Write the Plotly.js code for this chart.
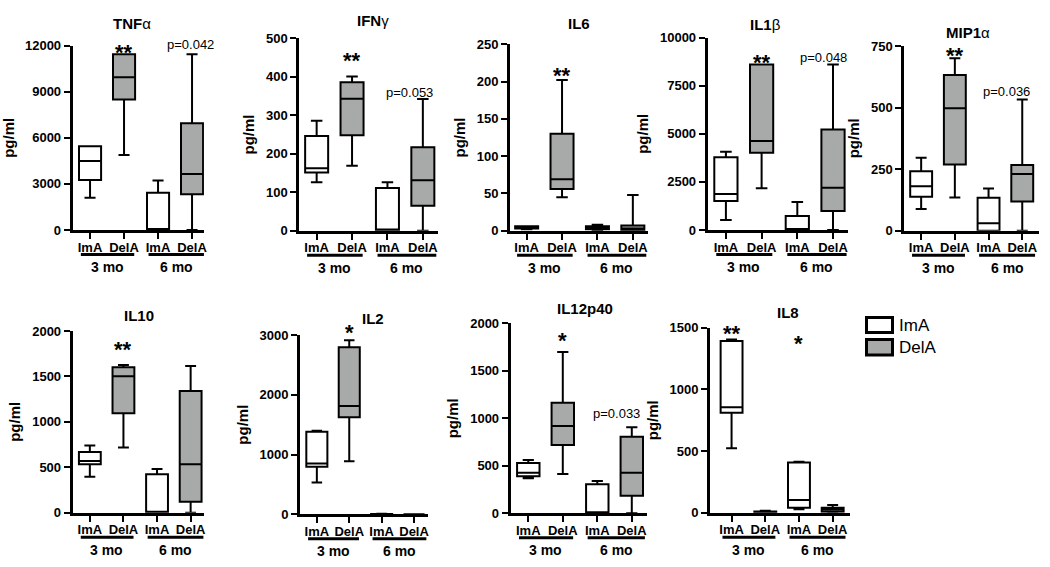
<!DOCTYPE html>
<html>
<head>
<meta charset="utf-8">
<script src="https://cdn.plot.ly/plotly-3.0.1.min.js"></script>
<style>
  body { margin: 0; background: #fff; }
  #chart { width: 1050px; height: 567px; }
</style>
</head>
<body>
<div id="chart"></div>
<script>
const W = 1050, H = 567;
const FONT = 'Liberation Sans, Arial, sans-serif';

// panel titles
const cytokines = ['<b>TNF</b>α', '<b>IFN</b>γ', '<b>IL6</b>', '<b>IL1</b>β', '<b>MIP1</b>α',
                   '<b>IL10</b>', '<b>IL2</b>', '<b>IL12p40</b>', '<b>IL8</b>'];
const groups = ['ImA', 'DelA', 'ImA', 'DelA'];
const periods = ['3 mo', '6 mo'];

// box stats in pg/ml, each pair is [3 mo, 6 mo]
const imaLow  = [[2100, 0], [126, 0], [2, 1], [520, 0], [88, 0], [396, 0], [530, 0], [368, 0], [522, 27]];
const imaQ1   = [[3250, 0], [151, 0], [3, 2], [1510, 0], [138, 0], [532, 0], [797, 0], [389, 0], [811, 41]];
const imaMed  = [[4500, 0], [162, 3], [5, 4], [1870, 0], [181, 30], [569, 0], [848, 0], [428, 0], [854, 103]];
const imaQ3   = [[5450, 2430], [246, 111], [6, 6], [3780, 730], [241, 134], [668, 422], [1383, 5], [530, 305], [1392, 408]];
const imaHigh = [[5450, 3230], [286, 126], [6, 8], [4070, 1460], [296, 171], [741, 481], [1400, 10], [561, 340], [1405, 414]];

const delLow  = [[4880, 0], [169, 0], [45, 0], [2170, 0], [135, 0], [719, 0], [887, 0], [414, 0], [0, 0]];
const delQ1   = [[8500, 2320], [248, 65], [56, 1], [4020, 990], [269, 119], [1094, 121], [1623, 0], [719, 186], [3, 8]];
const delMed  = [[9940, 3650], [343, 131], [69, 3], [4630, 2200], [497, 230], [1501, 532], [1813, 0], [919, 428], [6, 25]];
const delQ3   = [[11450, 6950], [386, 217], [130, 7], [8610, 5230], [632, 267], [1600, 1339], [2794, 0], [1165, 807], [10, 41]];
const delHigh = [[11450, 11450], [401, 342], [202, 48], [8610, 8610], [700, 533], [1626, 1615], [2911, 0], [1698, 905], [15, 62]];

// significance labels: text, panel, group position
const sigLabels = ['**', 'p=0.042', '**', 'p=0.053', '**', '**', 'p=0.048', '**', 'p=0.036',
                   '**', '*', '*', 'p=0.033', '**', '*'];
const sigPanel  = [0, 0, 1, 1, 2, 3, 3, 4, 4, 5, 6, 7, 7, 8, 8];
const sigGroup  = [1, 3, 1, 3, 1, 1, 3, 1, 3, 1, 1, 1, 3, 0, 2];
// label placement (px from top) and horizontal nudge
const sigY  = [46.7, 45, 55, 92, 70, 56.7, 57.3, 50, 91.7, 344.3, 326.7, 335, 413.3, 328.3, 338.3];
const sigDx = [0, -2, 0, -13, 0, 0, -10, 0, -16, 0, 0, 0, -15, 0, 0];

// panel geometry in px: y axis x position, category spacing, top/bottom of plot, title spot
const panels = [
  {ax: 72.7,  sp: 34,   top: 45.7,  bot: 230,   l: 0.51, r: 0.35, ymax: 12000, dt: 3000, tx: 132, ty: 23},
  {ax: 299.3, sp: 35.4, top: 38.3,  bot: 230.7, l: 0.49, r: 0.42, ymax: 500,   dt: 100,  tx: 373, ty: 21},
  {ax: 510,   sp: 35.4, top: 44.3,  bot: 230.7, l: 0.47, r: 0.42, ymax: 250,   dt: 50,   tx: 579, ty: 23},
  {ax: 707.7, sp: 35.7, top: 37.7,  bot: 230,   l: 0.51, r: 0.42, ymax: 10000, dt: 2500, tx: 765, ty: 24},
  {ax: 904.3, sp: 33.7, top: 46,    bot: 230.7, l: 0.5,  r: 0.51, ymax: 750,   dt: 250,  tx: 968, ty: 32},
  {ax: 72.7,  sp: 33.6, top: 331,   bot: 512.7, l: 0.51, r: 0.4,  ymax: 2000,  dt: 500,  tx: 139, ty: 315},
  {ax: 300,   sp: 32.4, top: 335,   bot: 514.3, l: 0.52, r: 0.43, ymax: 3000,  dt: 1000, tx: 373, ty: 318},
  {ax: 510.7, sp: 34.5, top: 323.3, bot: 513.3, l: 0.51, r: 0.43, ymax: 2000,  dt: 500,  tx: 585, ty: 308},
  {ax: 710,   sp: 33.7, top: 327.7, bot: 512.7, l: 0.64, r: 0.51, ymax: 1500,  dt: 500,  tx: 788, ty: 312}
];

const GRAY = '#a8aaaa';
const py = v => 1 - v / H;
const pxw = v => v / W;

var data = [];
var layout = {
  width: W, height: H,
  margin: {l: 0, r: 0, t: 0, b: 0},
  paper_bgcolor: '#fff', plot_bgcolor: 'rgba(0,0,0,0)',
  showlegend: false,
  font: {family: FONT, color: '#000'},
  annotations: [],
  shapes: []
};

panels.forEach(function(p, i) {
  let k = i + 1;
  let xid = k === 1 ? 'x' : 'x' + k;
  let yid = k === 1 ? 'y' : 'y' + k;

  layout['xaxis' + (k === 1 ? '' : k)] = {
    domain: [pxw(p.ax), pxw(p.ax + (p.l + 3 + p.r) * p.sp)],
    range: [-p.l, 3 + p.r],
    anchor: yid,
    tickvals: [0, 1, 2, 3], ticktext: groups,
    showline: true, linewidth: 3, linecolor: '#000',
    ticks: 'outside', ticklen: 6, tickwidth: 2, tickcolor: '#000',
    ticklabelstandoff: -3,
    showgrid: false, zeroline: false, fixedrange: true,
    tickfont: {family: FONT, size: 13, weight: 'bold'}
  };
  layout['yaxis' + (k === 1 ? '' : k)] = {
    domain: [py(p.bot), py(p.top)],
    range: [0, p.ymax], tick0: 0, dtick: p.dt,
    tickformat: 'd',
    anchor: xid,
    showline: true, linewidth: 3, linecolor: '#000',
    ticks: 'outside', ticklen: 6, tickwidth: 2, tickcolor: '#000',
    showgrid: false, zeroline: false, fixedrange: true,
    tickfont: {family: FONT, size: 13, weight: 'bold'},
    title: {text: 'pg/ml', font: {family: FONT, size: 15, weight: 'bold'}, standoff: 8}
  };

  data.push({
    type: 'box', xaxis: xid, yaxis: yid, name: 'ImA',
    x: [0, 2],
    lowerfence: imaLow[i], q1: imaQ1[i], median: imaMed[i], q3: imaQ3[i], upperfence: imaHigh[i],
    width: 0.65, whiskerwidth: 0.5, boxpoints: false,
    fillcolor: '#fff', line: {color: '#000', width: 2},
    hoverinfo: 'skip'
  });
  data.push({
    type: 'box', xaxis: xid, yaxis: yid, name: 'DelA',
    x: [1, 3],
    lowerfence: delLow[i], q1: delQ1[i], median: delMed[i], q3: delQ3[i], upperfence: delHigh[i],
    width: 0.65, whiskerwidth: 0.5, boxpoints: false,
    fillcolor: GRAY, line: {color: '#000', width: 2},
    hoverinfo: 'skip'
  });

  // panel title
  layout.annotations.push({
    xref: 'paper', yref: 'paper', x: pxw(p.tx), y: py(p.ty),
    text: cytokines[i], showarrow: false, xanchor: 'center', yanchor: 'middle',
    font: {family: FONT, size: 15}
  });

  // 3 mo / 6 mo group underlines and labels
  [[-0.27, 1.3], [1.72, 3.38]].forEach(function(seg, g) {
    layout.shapes.push({
      type: 'line', xref: xid, yref: 'paper',
      x0: seg[0], x1: seg[1], y0: py(p.bot + 24.5), y1: py(p.bot + 24.5),
      line: {color: '#000', width: 3}
    });
    layout.annotations.push({
      xref: xid, yref: 'paper', x: g === 0 ? 0.5 : 2.55, y: py(p.bot + 37),
      text: periods[g], showarrow: false, xanchor: 'center', yanchor: 'middle',
      font: {family: FONT, size: 14, weight: 'bold'}
    });
  });
});

// significance marks
sigLabels.forEach(function(s, j) {
  let k = sigPanel[j] + 1;
  let star = s.indexOf('*') === 0;
  layout.annotations.push({
    xref: k === 1 ? 'x' : 'x' + k, yref: 'paper',
    x: sigGroup[j], y: py(sigY[j] + (star ? 5.5 : 0)),
    xshift: sigDx[j],
    text: s, showarrow: false, xanchor: 'center', yanchor: 'middle',
    font: star ? {family: FONT, size: 22, weight: 'bold'} : {family: FONT, size: 13}
  });
});

// legend
[['ImA', '#fff', 317.5, 332.5], ['DelA', GRAY, 339.5, 355]].forEach(function(e) {
  layout.shapes.push({
    type: 'rect', xref: 'paper', yref: 'paper',
    x0: pxw(866.5), x1: pxw(892.5), y0: py(e[3]), y1: py(e[2]),
    fillcolor: e[1], line: {color: '#000', width: 3}
  });
  layout.annotations.push({
    xref: 'paper', yref: 'paper', x: pxw(897), y: py((e[2] + e[3]) / 2),
    text: e[0], showarrow: false, xanchor: 'left', yanchor: 'middle',
    font: {family: FONT, size: 17}
  });
});

Plotly.newPlot('chart', data, layout, {staticPlot: true, displayModeBar: false});
</script>
</body>
</html>
